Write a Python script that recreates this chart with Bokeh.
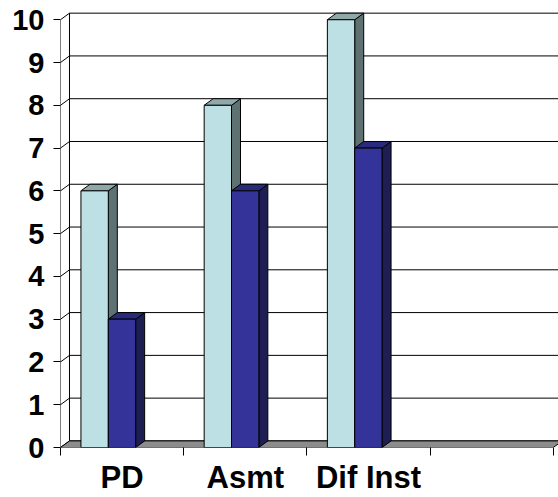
from bokeh.plotting import figure
from bokeh.models import FixedTicker, Range1d
from bokeh.embed import file_html
from bokeh.resources import INLINE

# Data
categories = ["PD", "Asmt", "Dif Inst", ""]
series_light = [6, 8, 10]
series_dark = [3, 6, 7]
y_ticks = list(range(0, 11))

# 3D look: depth offset of the back wall (in data units) and bar placement
n = len(categories)
y_max = max(y_ticks)
DX = 0.073
DY = 0.154
BAR_OFFSET = 0.166
BAR_W = 0.222

FONT = "Liberation Sans"

p = figure(width=558, height=497, output_backend="svg", toolbar_location=None,
           x_range=Range1d(0, 4.042), y_range=Range1d(0, 10.45),
           min_border_left=60, min_border_right=0, min_border_top=0,
           min_border_bottom=50, background_fill_color="white",
           border_fill_color="white")
p.xgrid.visible = False
p.ygrid.visible = False
p.outline_line_color = None

# back wall with its gridlines
p.quad(left=[DX], right=[n + DX], bottom=[DY], top=[y_max + DY],
       fill_color="white", line_color=None)
p.segment(x0=[DX] * len(y_ticks), y0=[v + DY for v in y_ticks],
          x1=[n + DX] * len(y_ticks), y1=[v + DY for v in y_ticks],
          line_color="black", line_width=1)
# side wall: gridline continuations and edges
p.segment(x0=[0] * len(y_ticks), y0=y_ticks,
          x1=[DX] * len(y_ticks), y1=[v + DY for v in y_ticks],
          line_color="black", line_width=1)
p.segment(x0=[DX, 0], y0=[DY, 0], x1=[DX, 0], y1=[y_max + DY, y_max],
          line_color="black", line_width=1)
# floor
p.patch([0, n, n + DX, DX], [0, 0, DY, DY], fill_color="#8c8c8c",
        line_color="black", line_width=1)


def draw_bars(values, idx, front, top, side):
    lefts = [k + BAR_OFFSET + idx * BAR_W for k in range(len(values))]
    rights = [l + BAR_W for l in lefts]
    side_xs = [[r, r + DX, r + DX, r] for r in rights]
    side_ys = [[0, DY, v + DY, v] for v in values]
    p.patches(side_xs, side_ys, fill_color=side, line_color="black", line_width=1)
    top_xs = [[l, r, r + DX, l + DX] for l, r in zip(lefts, rights)]
    top_ys = [[v, v, v + DY, v + DY] for v in values]
    p.patches(top_xs, top_ys, fill_color=top, line_color="black", line_width=1)
    p.quad(left=lefts, right=rights, bottom=[0] * len(values), top=values,
           fill_color=front, line_color="black", line_width=1)


draw_bars(series_light, 0, "#bce0e4", "#8fa9ab", "#5f7272")
draw_bars(series_dark, 1, "#333399", "#2a2a7c", "#1e1e52")

# y axis
p.yaxis.ticker = FixedTicker(ticks=y_ticks)
p.yaxis.axis_line_color = None
p.yaxis.major_tick_out = 7
p.yaxis.major_tick_in = 0
p.yaxis.minor_tick_line_color = None
p.yaxis.major_tick_line_color = "black"
p.yaxis.major_label_standoff = 9
p.yaxis.major_label_text_font = FONT
p.yaxis.major_label_text_font_style = "bold"
p.yaxis.major_label_text_font_size = "29px"
p.yaxis.major_label_text_color = "black"

# x axis: labels at category centres, tick marks at boundaries
centers = [k + 0.5 for k in range(n)]
p.xaxis.ticker = FixedTicker(ticks=centers, minor_ticks=list(range(n + 1)))
p.xaxis.major_label_overrides = {c: name for c, name in zip(centers, categories)}
p.xaxis.axis_line_color = None
p.xaxis.major_tick_out = 0
p.xaxis.major_tick_in = 0
p.xaxis.minor_tick_out = 8
p.xaxis.minor_tick_in = 0
p.xaxis.minor_tick_line_color = "black"
p.xaxis.major_label_standoff = 4
p.xaxis.major_label_text_font = FONT
p.xaxis.major_label_text_font_style = "bold"
p.xaxis.major_label_text_font_size = "31px"
p.xaxis.major_label_text_line_height = 1.0
p.xaxis.major_label_text_color = "black"

open("out.html", "w").write(file_html(p, INLINE))
